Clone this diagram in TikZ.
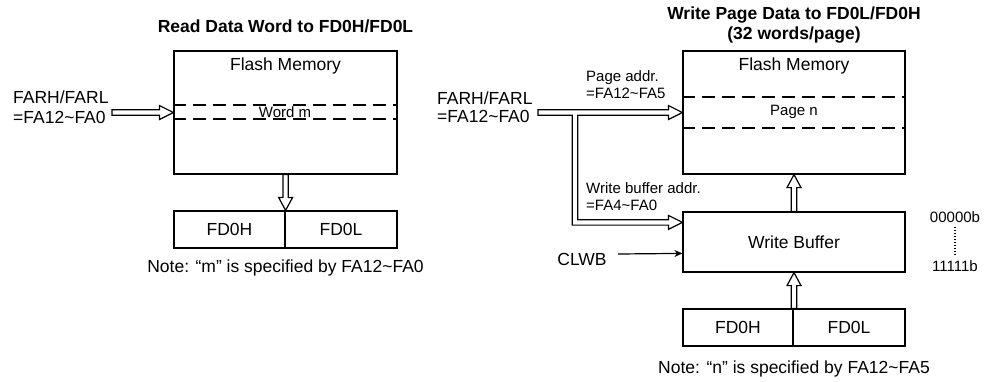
\documentclass[tikz,border=0pt]{standalone}
\usepackage{fontspec}
\setmainfont{Liberation Sans}
\usetikzlibrary{calc,arrows.meta}
\newcommand\fmain{\fontsize{17.5}{20}\selectfont}
\newcommand\fsmall{\fontsize{15}{17}\selectfont}
\tikzset{
  box/.style={draw, line width=1.2pt, inner sep=0pt},
  lbl/.style={inner sep=0pt, font=\fmain},
  slbl/.style={inner sep=0pt, font=\fsmall},
  ttl/.style={inner sep=0pt, font=\fmain\bfseries, align=center},
  hollow/.style={draw, line width=1.2pt, line join=miter, fill=white},
  sep/.style={line width=1.2pt, dash pattern=on 13pt off 7pt},
}
% hollow arrow pointing right: #1 start, #2 tip
\newcommand\harrowR[2]{%
  \path[hollow] let \p1=(#1), \p2=(#2) in
   (\x1,\y2+2.7pt) -- (\x2-14pt,\y2+2.7pt) -- (\x2-14pt,\y2+7pt) -- (\x2,\y2)
   -- (\x2-14pt,\y2-7pt) -- (\x2-14pt,\y2-2.7pt) -- (\x1,\y2-2.7pt) -- cycle;}
% hollow arrow pointing down the page: #1 start, #2 tip
\newcommand\harrowD[2]{%
  \path[hollow] let \p1=(#1), \p2=(#2) in
   (\x2-2.7pt,\y1) -- (\x2-2.7pt,\y2+13pt) -- (\x2-7pt,\y2+13pt) -- (\x2,\y2)
   -- (\x2+7pt,\y2+13pt) -- (\x2+2.7pt,\y2+13pt) -- (\x2+2.7pt,\y1) -- cycle;}
% hollow arrow pointing up the page: #1 start, #2 tip
\newcommand\harrowU[2]{%
  \path[hollow] let \p1=(#1), \p2=(#2) in
   (\x2-2.7pt,\y1) -- (\x2-2.7pt,\y2-13pt) -- (\x2-7pt,\y2-13pt) -- (\x2,\y2)
   -- (\x2+7pt,\y2-13pt) -- (\x2+2.7pt,\y2-13pt) -- (\x2+2.7pt,\y1) -- cycle;}
\begin{document}
\begin{tikzpicture}[x=1pt,y=-1pt]
\useasboundingbox (0,0) rectangle (984,381);

% ---------------- left diagram ----------------
\node[ttl] (t1) at (285.5,26) {Read Data Word to FD0H/FD0L};
\node[box, minimum width=223pt, minimum height=123pt] (fm1) at (285.5,112.5) {};
\node[lbl] (fm1t) at (285.5,66) {Flash Memory};
\draw[sep] (fm1.west |- 0,105) -- (fm1.east |- 0,105);
\draw[sep] (fm1.west |- 0,119) -- (fm1.east |- 0,119);
\node[slbl] (wm) at (285,112) {Word m};
\node[box, minimum width=111pt, minimum height=37pt] (fdh1) at (229.5,229.5) {\fmain FD0H};
\node[box, minimum width=112pt, minimum height=37pt] (fdl1) at (341,229.5) {\fmain FD0L};
\node[lbl, anchor=north west, align=left] (far1) at (13,91) {FARH/FARL\\=FA12\textasciitilde FA0};
\coordinate (a1s) at (112,112.5);
\harrowR{a1s}{fm1.west}
\harrowD{fm1.south}{fdh1.north east}
\node[lbl] (note1) at (285.5,268) {Note: “m” is specified by FA12\textasciitilde FA0};

% ---------------- right diagram ----------------
\node[ttl] (t2) at (794,25) {Write Page Data to FD0L/FD0H\\(32 words/page)};
\node[box, minimum width=222pt, minimum height=123pt] (fm2) at (794,112.5) {};
\node[lbl] (fm2t) at (794,66) {Flash Memory};
\draw[sep] (fm2.west |- 0,97) -- (fm2.east |- 0,97);
\draw[sep] (fm2.west |- 0,128) -- (fm2.east |- 0,128);
\node[slbl] (pn) at (794,112) {Page n};
\node[box, minimum width=222pt, minimum height=60pt, font=\fmain] (wb) at (794,242) {Write Buffer};
\node[box, minimum width=110pt, minimum height=37pt] (fdh2) at (738,327.5) {\fmain FD0H};
\node[box, minimum width=112pt, minimum height=37pt] (fdl2) at (849,327.5) {\fmain FD0L};
\node[inner sep=0pt, anchor=north west, align=left, font=\fontsize{17.5}{17.5}\selectfont] (far2) at (437,92) {FARH/FARL\\=FA12\textasciitilde FA0};
\node[inner sep=0pt, anchor=north west, align=left, font=\fontsize{15}{17}\selectfont] (pa) at (586,70) {Page addr.\\=FA12\textasciitilde FA5};
\node[inner sep=0pt, anchor=north west, align=left, font=\fontsize{15}{17}\selectfont] (wba) at (586,182) {Write buffer addr.\\=FA4\textasciitilde FA0};
% branched hollow arrow
\coordinate (frs) at (538,112.5);
\coordinate (br) at (575,112.5);
\coordinate (wbin) at ($(wb.north west)+(0,11)$);
\path[hollow] let \p1=(frs), \p2=(fm2.west), \p3=(wbin), \p4=(br) in
  (\x1,\y2+2.7pt) -- (\x2-14pt,\y2+2.7pt) -- (\x2-14pt,\y2+7pt) -- (\x2,\y2)
  -- (\x2-14pt,\y2-7pt) -- (\x2-14pt,\y2-2.7pt) -- (\x4+2.7pt,\y2-2.7pt)
  -- (\x4+2.7pt,\y3+2.7pt) -- (\x3-14pt,\y3+2.7pt) -- (\x3-14pt,\y3+7pt) -- (\x3,\y3)
  -- (\x3-14pt,\y3-7pt) -- (\x3-14pt,\y3-2.7pt) -- (\x4-2.7pt,\y3-2.7pt)
  -- (\x4-2.7pt,\y2-2.7pt) -- (\x1,\y2-2.7pt) -- cycle;
\harrowU{wb.north}{fm2.south}
\harrowU{fdh2.north east}{wb.south}
% CLWB
\node[lbl] (clwb) at (582,259) {CLWB};
\coordinate (clin) at ($(wb.north west)+(0,42)$);
\coordinate (cls) at (618,254);
\draw[line width=1.2pt, -{Stealth[length=8pt,width=7pt]}] (cls) -- (clin);
% address range
\node[slbl] (r0) at (955,217) {00000b};
\node[slbl] (r1) at (955,266) {11111b};
\draw[line width=1.1pt, dash pattern=on 1.5pt off 1.5pt] ($(r0.south)+(0,4)$) -- ($(r1.north)+(0,-4)$);
\node[lbl] (note2) at (794,369) {Note: “n” is specified by FA12\textasciitilde FA5};
\end{tikzpicture}
\end{document}
